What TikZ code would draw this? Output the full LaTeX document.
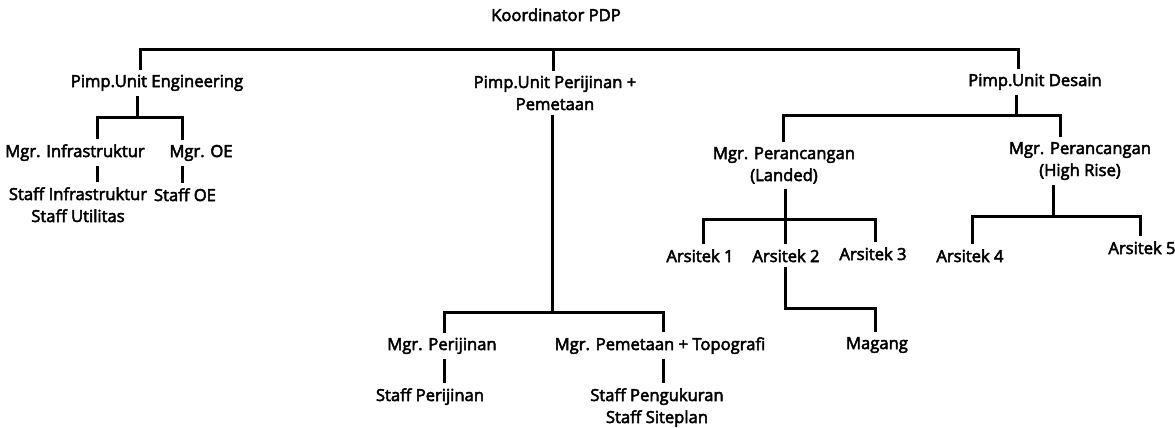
\documentclass[tikz,border=0pt]{standalone}
\usepackage{fontspec}
\setmainfont{Open Sans}[FakeBold=3]

\begin{document}
\begin{tikzpicture}[x=0.5pt,y=-0.5pt,
    unit/.style={inner sep=0pt,outer sep=2.5pt,align=center,anchor=base,
      font=\fontsize{8.3}{11}\selectfont},
    link/.style={line width=1.5pt}]
  \useasboundingbox (0,0) rectangle (1175,428);
  % top level
  \node[unit] (koord) at (556,21) {Koordinator PDP};
  \node[unit] (eng) at (157,87) {Pimp.Unit Engineering};
  \node[unit] (per) at (555,110) {Pimp.Unit Perijinan +\\Pemetaan};
  \node[unit] (des) at (1035,86) {Pimp.Unit Desain};
  % engineering
  \node[unit] (infra) at (75,157) {Mgr. Infrastruktur};
  \node[unit] (oe) at (201,157) {Mgr. OE};
  \node[unit] (sinfra) at (78,222) {Staff Infrastruktur\\Staff Utilitas};
  \node[unit] (soe) at (185,201) {Staff OE};
  % perijinan
  \node[unit] (mper) at (442,350) {Mgr. Perijinan};
  \node[unit] (mpem) at (660,350) {Mgr. Pemetaan + Topografi};
  \node[unit] (sper) at (430,401) {Staff Perijinan};
  \node[unit] (speng) at (657,423) {Staff Pengukuran\\Staff Siteplan};
  % desain
  \node[unit] (land) at (784,181) {Mgr. Perancangan\\(Landed)};
  \node[unit] (high) at (1080,176) {Mgr. Perancangan\\(High Rise)};
  \node[unit] (ars1) at (700,262) {Arsitek 1};
  \node[unit] (ars2) at (786,262) {Arsitek 2};
  \node[unit] (ars3) at (873,260) {Arsitek 3};
  \node[unit] (ars4) at (970,262) {Arsitek 4};
  \node[unit] (ars5) at (1142,254) {Arsitek 5};
  \node[unit] (mag) at (877,349) {Magang};

  % bars
  \coordinate (bus0-l) at (140,49);
  \coordinate (bus0-m) at (553,49);
  \coordinate (bus0-r) at (1018,49);
  \coordinate (bus1) at (137,117);
  \coordinate (bus1-l) at (97,117);
  \coordinate (bus1-r) at (182,117);
  \coordinate (bus2) at (552,312);
  \coordinate (bus2-l) at (444,312);
  \coordinate (bus2-r) at (663,312);
  \coordinate (bus3) at (1016,115);
  \coordinate (bus3-l) at (783,115);
  \coordinate (bus3-r) at (1060,115);
  \coordinate (bus4) at (785,219);
  \coordinate (bus4-l) at (703,219);
  \coordinate (bus4-r) at (875,219);
  \coordinate (bus5) at (875,308);
  \coordinate (bus6) at (1053,216);
  \coordinate (bus6-l) at (972,216);
  \coordinate (bus6-r) at (1140,216);

  % connectors
  \draw[link] (eng.north -| bus0-l) |- (bus0-r) -- (des.north -| bus0-r);
  \draw[link] (bus0-m) -- (bus0-m |- per.north);
  \draw[link] (eng.south -| bus1) -- (bus1);
  \draw[link] (infra.north -| bus1-l) |- (bus1-r) -- (oe.north -| bus1-r);
  \draw[link] (infra.south -| bus1-l) -- (sinfra.north -| bus1-l);
  \draw[link] (oe.south -| bus1-r) -- (soe.north -| bus1-r);
  \draw[link] (per.south -| bus2) -- (bus2);
  \draw[link] (mper.north -| bus2-l) |- (bus2-r) -- (mpem.north -| bus2-r);
  \draw[link] (mper.south -| bus2-l) -- (sper.north -| bus2-l);
  \draw[link] (mpem.south -| bus2-r) -- (speng.north -| bus2-r);
  \draw[link] (des.south -| bus3) -- (bus3);
  \draw[link] (land.north -| bus3-l) |- (bus3-r) -- (high.north -| bus3-r);
  \draw[link] (land.south -| bus4) -- (ars2.north -| bus4);
  \draw[link] (ars1.north -| bus4-l) |- (bus4-r) -- (ars3.north -| bus4-r);
  \draw[link] (ars2.south -| bus4) |- (bus5) -- (mag.north -| bus5);
  \draw[link] (high.south -| bus6) -- (bus6);
  \draw[link] (ars4.north -| bus6-l) |- (bus6-r) -- (ars5.north -| bus6-r);
\end{tikzpicture}
\end{document}
